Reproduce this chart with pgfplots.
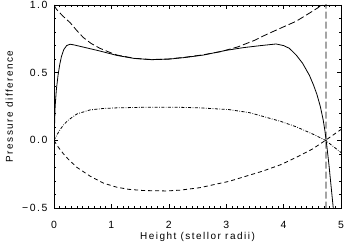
\documentclass[border=0pt]{standalone}
\usepackage{fontspec}
\setmainfont{Liberation Sans}[LetterSpace=15]
\usepackage{pgfplots}
\pgfplotsset{compat=1.18}
\begin{document}
\begin{tikzpicture}
\useasboundingbox (-54bp,-36bp) rectangle (292bp,208bp);
\begin{axis}[
  scale only axis, width=287bp, height=203bp,
  at={(0,0)}, anchor=south west,
  xmin=0, xmax=5, ymin=-0.5, ymax=1.0,
  xtick={0,1,2,3,4,5}, xticklabels={0,1,2,3,4,5},
  ytick={-0.5,0,0.5,1.0}, yticklabels={−0.5,0.0,0.5,1.0},
  minor xtick={0,0.1,...,5}, minor ytick={-0.5,-0.4,...,1.0},
  tick align=inside, xtick pos=both, ytick pos=both,
  major tick length=4bp, minor tick length=2bp,
  every tick/.style={black, line width=0.5bp},
  axis line style={line width=0.7bp},
  tick label style={font=\fontsize{10.5}{12}\selectfont},
  label style={font=\fontsize{10}{12}\selectfont},
  xticklabel style={anchor=base, yshift=-20bp},
  yticklabel style={xshift=-3bp},
  xlabel={Height (stellor radii)},
  ylabel={Pressure difference},
  xlabel style={at={(axis description cs:0.5,-0.1576)}, anchor=base},
  ylabel style={at={(axis description cs:-0.1429,0.5)}, anchor=base},
  clip=true,
  cycle list={{black,solid,no markers,line width=0.8bp}},
]
% solid
\addplot[black, solid, no markers, line width=0.8bp] coordinates {(0,0.0) (0.01,0.12) (0.02,0.25) (0.04,0.37) (0.07,0.48) (0.1,0.56) (0.13,0.62) (0.17,0.67) (0.22,0.70) (0.28,0.71) (0.35,0.705) (0.5,0.69) (0.8,0.66) (1.1,0.627) (1.4,0.605) (1.7,0.596) (2.0,0.60) (2.3,0.613) (2.6,0.63) (3.0,0.665) (3.3,0.685) (3.6,0.70) (3.87,0.712) (4.0,0.70) (4.1,0.68) (4.22,0.63) (4.33,0.57) (4.45,0.48) (4.52,0.41) (4.58,0.34) (4.64,0.25) (4.69,0.15) (4.72,0.07) (4.75,-0.03) (4.79,-0.18) (4.83,-0.35) (4.87,-0.52) (4.89,-0.6)};
% long dash
\addplot[black, no markers, line width=0.8bp, dash pattern=on 7bp off 3bp] coordinates {(0,1.0) (0.04,0.97) (0.15,0.92) (0.28,0.87) (0.4,0.81) (0.51,0.76) (0.65,0.715) (0.8,0.68) (1.0,0.645) (1.1,0.63) (1.4,0.606) (1.7,0.597) (2.0,0.601) (2.3,0.615) (2.6,0.632) (2.9,0.655) (3.2,0.69) (3.5,0.74) (3.64,0.77) (3.9,0.82) (4.22,0.88) (4.45,0.94) (4.6,0.98) (4.7,1.015) (4.74,1.05) (4.74,-0.6)};
% dash dot
\addplot[black, no markers, line width=0.8bp, dash pattern=on 3bp off 1.5bp on 0.7bp off 1.5bp] coordinates {(0,0) (0.05,0.04) (0.1,0.075) (0.165,0.114) (0.25,0.15) (0.4,0.195) (0.63,0.225) (0.85,0.235) (1.09,0.24) (1.67,0.245) (2.1,0.245) (2.54,0.24) (3.05,0.227) (3.4,0.205) (3.64,0.177) (3.95,0.14) (4.22,0.10) (4.5,0.048) (4.73,0.0) (5.0,-0.09)};
% short dash
\addplot[black, no markers, line width=0.8bp, dash pattern=on 4bp off 3bp] coordinates {(0,0) (0.05,-0.035) (0.1,-0.065) (0.165,-0.10) (0.25,-0.14) (0.4,-0.20) (0.63,-0.265) (0.86,-0.316) (1.09,-0.346) (1.3,-0.362) (1.56,-0.371) (1.96,-0.374) (2.2,-0.368) (2.54,-0.35) (3.05,-0.303) (3.64,-0.227) (3.95,-0.18) (4.22,-0.126) (4.5,-0.065) (4.73,0.0) (5.0,0.08)};
\end{axis}
\end{tikzpicture}
\end{document}
